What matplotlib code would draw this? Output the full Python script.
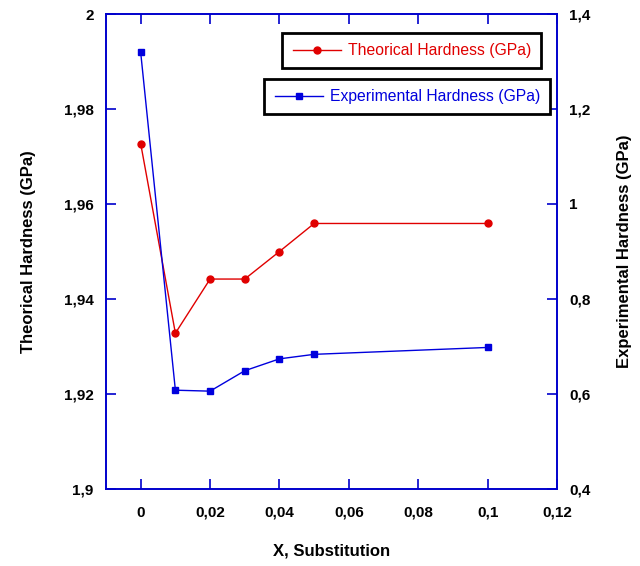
import matplotlib
matplotlib.use("Agg")
import matplotlib.pyplot as plt
from matplotlib.ticker import FuncFormatter

# MARK: data

x_subst = [0, 0.01, 0.02, 0.03, 0.04, 0.05, 0.1]
theo_hardness = [1.9727, 1.9328, 1.9442, 1.9442, 1.9500, 1.9559, 1.9559]
exp_hardness = [1.319, 0.608, 0.606, 0.649, 0.674, 0.6835, 0.698]

x_ticks = [0, 0.02, 0.04, 0.06, 0.08, 0.1, 0.12]
left_ticks = [1.9, 1.92, 1.94, 1.96, 1.98, 2.0]
right_ticks = [0.4, 0.6, 0.8, 1.0, 1.2, 1.4]

# MARK: style

plt.rcParams['font.family'] = ['Liberation Sans', 'DejaVu Sans']
RED = '#e00000'
BLUE = '#0000dd'
AXIS = '#0000cc'

comma = FuncFormatter(lambda v, p: ('%g' % round(v, 4)).replace('.', ','))

fig = plt.figure(figsize=(6.4, 5.66), dpi=100)
ax1 = fig.add_axes([106/640, 77/566, 451/640, 475/566])
ax2 = ax1.twinx()

l1, = ax1.plot(x_subst, theo_hardness, color=RED, lw=1.0, marker='o', ms=5,
               label='Theorical Hardness (GPa)')
l2, = ax2.plot(x_subst, exp_hardness, color=BLUE, lw=1.0, marker='s', ms=5,
               label='Experimental Hardness (GPa)')

ax1.set_xlim(-0.01, 0.12)
ax1.set_ylim(1.9, 2.0)
ax2.set_ylim(0.4, 1.4)
ax1.set_xticks(x_ticks)
ax1.set_yticks(left_ticks)
ax2.set_yticks(right_ticks)
for a in (ax1, ax2):
    a.xaxis.set_major_formatter(comma)
    a.yaxis.set_major_formatter(comma)
    for s in a.spines.values():
        s.set_color(AXIS)
        s.set_linewidth(1.2)

ax1.tick_params(axis='x', direction='in', top=True, bottom=True, length=7, width=1.2,
                color=AXIS, pad=12, labelsize=11)
ax1.tick_params(axis='y', direction='in', left=True, right=False, length=7, width=1.2,
                color=AXIS, pad=9, labelsize=11)
ax2.tick_params(axis='y', direction='in', right=True, length=7, width=1.2,
                color=AXIS, pad=9, labelsize=11)
for lab in ax1.get_xticklabels() + ax1.get_yticklabels() + ax2.get_yticklabels():
    lab.set_fontweight('bold')

ax1.set_xlabel('X, Substitution', fontsize=12, fontweight='bold', labelpad=17)
ax1.set_ylabel('Theorical Hardness (GPa)', fontsize=12, fontweight='bold', labelpad=20)
ax2.set_ylabel('Experimental Hardness (GPa)', fontsize=12, fontweight='bold', labelpad=19)

# two separate legend boxes
leg_kw = dict(fontsize=11.3, handlelength=3.1, handletextpad=0.4, borderpad=0.65,
              borderaxespad=0, fancybox=False, framealpha=1, edgecolor='black',
              bbox_transform=fig.transFigure, loc='upper right')
lg1 = ax2.legend(handles=[l1], bbox_to_anchor=(541/640, 1 - 33/566), **leg_kw)
lg1.get_frame().set_linewidth(2)
lg1.get_texts()[0].set_color(RED)
ax2.add_artist(lg1)
lg2 = ax2.legend(handles=[l2], bbox_to_anchor=(550/640, 1 - 79/566), **leg_kw)
lg2.get_frame().set_linewidth(2)
lg2.get_texts()[0].set_color(BLUE)

fig.savefig('out.png', dpi=100)
